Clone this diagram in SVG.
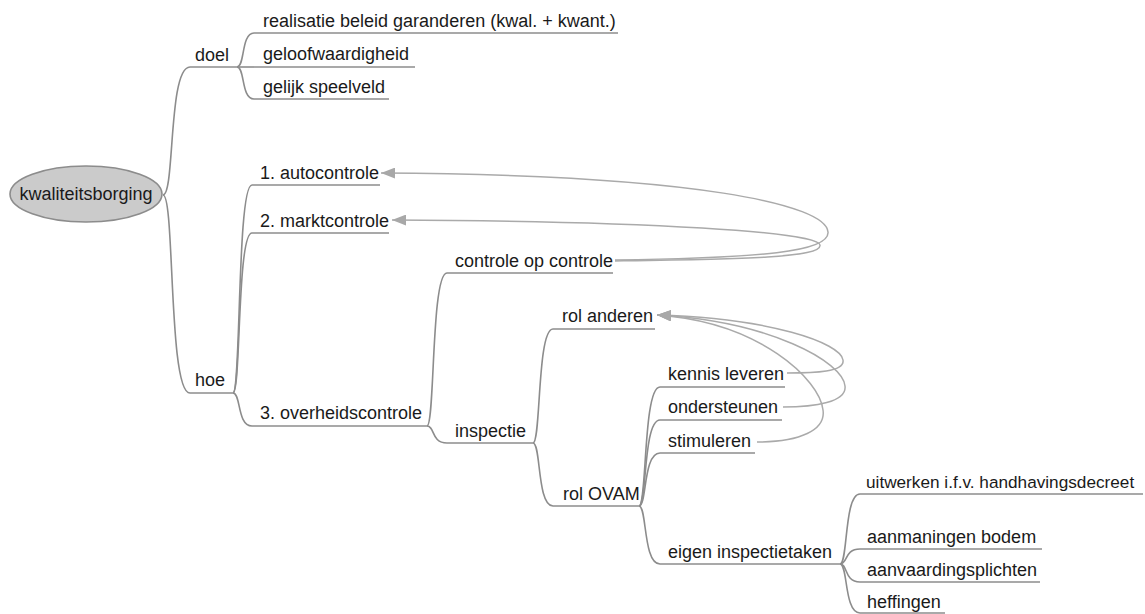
<svg xmlns="http://www.w3.org/2000/svg" width="1145" height="614" viewBox="0 0 1145 614">
<style>
text{font-family:"Liberation Sans",Arial,sans-serif;font-size:18px;fill:#1a1a1a}
.u{stroke:#8c8c8c;stroke-width:1.6;fill:none}
.c{stroke:#8c8c8c;stroke-width:1.6;fill:none}
.x{stroke:#aaaaaa;stroke-width:1.5;fill:none;marker-end:url(#ah)}
</style>
<defs>
<marker id="ah" markerUnits="userSpaceOnUse" markerWidth="14" markerHeight="11" refX="14" refY="5.5" orient="auto">
<path d="M0,0 L14,5.5 L0,11 z" fill="#a8a8a8"/>
</marker>
</defs>
<rect width="1145" height="614" fill="#ffffff"/>
<g id="connectors">
<path class="c" d="M163,195 C175,195 168,67 190,67"/>
<path class="c" d="M163,195 C175,195 168,393 190,393"/>
<path class="c" d="M237,67 C245,67 241,33 254,33"/>
<path class="c" d="M237,67 L254,67"/>
<path class="c" d="M237,67 C245,67 241,99 254,99"/>
<path class="c" d="M233,393 C241,393 237,185 252,185"/>
<path class="c" d="M233,393 C241,393 237,233 252,233"/>
<path class="c" d="M233,393 C241,393 237,426 252,426"/>
<path class="c" d="M427,426 C435,426 431,273 447,273"/>
<path class="c" d="M427,426 C435,426 431,443 447,443"/>
<path class="c" d="M533,443 C541,443 537,329 553,329"/>
<path class="c" d="M533,443 C541,443 537,506 553,506"/>
<path class="c" d="M639,506 C647,506 643,387 660,387"/>
<path class="c" d="M639,506 C647,506 643,420 660,420"/>
<path class="c" d="M639,506 C647,506 643,453 660,453"/>
<path class="c" d="M639,506 C647,506 643,564 660,564"/>
<path class="c" d="M840,564 C848,564 844,494 860,494"/>
<path class="c" d="M840,564 C848,564 844,549 860,549"/>
<path class="c" d="M840,564 C848,564 844,582 860,582"/>
<path class="c" d="M840,564 C848,564 844,613 860,613"/>
<path class="x" d="M615,260 C760,258 830,252 828,232 C826,205 700,175 381,173"/>
<path class="x" d="M615,261 C740,259 822,258 820,245 C818,232 650,221 392,220"/>
<path class="x" d="M787,373 C815,373 845,372 843,360 C841,343 770,318 657,315"/>
<path class="x" d="M783,407 C815,407 847,402 845,386 C843,362 770,321 657,315"/>
<path class="x" d="M757,442 C800,442 826,430 823,410 C820,380 760,322 657,315"/>
</g>
<g id="n-root">
<ellipse cx="86" cy="194" rx="76" ry="28" fill="#cbcbcb" stroke="#8c8c8c" stroke-width="1.6"/>
<text x="86" y="200" text-anchor="middle">kwaliteitsborging</text>
</g>
<g id="n-doel"><text x="195" y="61">doel</text><path class="u" d="M190,67 H237"/></g>
<g id="n-realisatie"><text x="263" y="27">realisatie beleid garanderen (kwal. + kwant.)</text><path class="u" d="M254,33 H618"/></g>
<g id="n-geloof"><text x="263" y="60">geloofwaardigheid</text><path class="u" d="M254,67 H415"/></g>
<g id="n-gelijk"><text x="263" y="93">gelijk speelveld</text><path class="u" d="M254,99 H389"/></g>
<g id="n-hoe"><text x="195" y="386">hoe</text><path class="u" d="M190,393 H233"/></g>
<g id="n-auto"><text x="260" y="179">1. autocontrole</text><path class="u" d="M252,185 H380"/></g>
<g id="n-markt"><text x="260" y="227">2. marktcontrole</text><path class="u" d="M252,233 H389"/></g>
<g id="n-overheid"><text x="260" y="419">3. overheidscontrole</text><path class="u" d="M252,426 H427"/></g>
<g id="n-coc"><text x="455" y="267">controle op controle</text><path class="u" d="M447,273 H613"/></g>
<g id="n-inspectie"><text x="455" y="437">inspectie</text><path class="u" d="M447,443 H533"/></g>
<g id="n-rolanderen"><text x="562" y="322">rol anderen</text><path class="u" d="M553,329 H655"/></g>
<g id="n-rolovam"><text x="563" y="500">rol OVAM</text><path class="u" d="M553,506 H639"/></g>
<g id="n-kennis"><text x="668" y="380">kennis leveren</text><path class="u" d="M660,387 H785"/></g>
<g id="n-onder"><text x="668" y="413">ondersteunen</text><path class="u" d="M660,420 H782"/></g>
<g id="n-stim"><text x="668" y="447">stimuleren</text><path class="u" d="M660,453 H755"/></g>
<g id="n-eigen"><text x="668" y="558">eigen inspectietaken</text><path class="u" d="M660,564 H840"/></g>
<g id="n-uitwerken"><text x="866" y="488" style="font-size:17.2px">uitwerken i.f.v. handhavingsdecreet</text><path class="u" d="M860,494 H1143"/></g>
<g id="n-aanmaningen"><text x="867" y="543">aanmaningen bodem</text><path class="u" d="M860,549 H1042"/></g>
<g id="n-aanvaarding"><text x="867" y="576">aanvaardingsplichten</text><path class="u" d="M860,582 H1040"/></g>
<g id="n-heffingen"><text x="867" y="608">heffingen</text><path class="u" d="M860,613 H945"/></g>
</svg>
